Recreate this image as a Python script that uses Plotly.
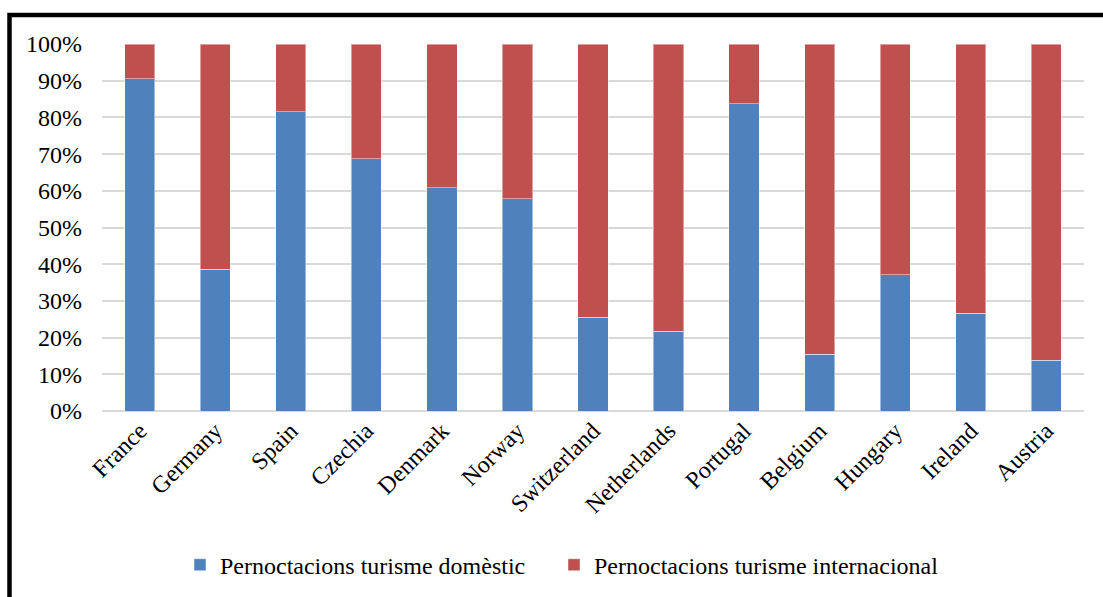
import plotly.graph_objects as go

# Share of overnight stays by origin of tourist (%)
countries = ["France", "Germany", "Spain", "Czechia", "Denmark", "Norway",
             "Switzerland", "Netherlands", "Portugal", "Belgium", "Hungary",
             "Ireland", "Austria"]
domestic = [90.6, 38.6, 81.5, 68.8, 60.8, 57.8, 25.6, 21.7, 83.7, 15.4, 37.1, 26.7, 13.8]
international = [round(100 - d, 1) for d in domestic]

series_names = ["Pernoctacions turisme domèstic", "Pernoctacions turisme internacional"]
y_ticks = list(range(0, 101, 10))
y_tick_text = [f"{v}%" for v in y_ticks]

W, H = 1103, 597
ML, MR, MT, MB = 102, 19, 44, 186
FONT = "Times New Roman, Liberation Serif, serif"
FS = 24

fig = go.Figure()
fig.add_trace(go.Bar(
    x=countries, y=domestic, name=series_names[0], legend="legend",
    marker=dict(color="#4f81bd", line=dict(color="rgba(255,255,255,0.45)", width=1)),
))
fig.add_trace(go.Bar(
    x=countries, y=international, name=series_names[1], legend="legend2",
    marker=dict(color="#c0504d", line=dict(color="rgba(255,255,255,0.45)", width=1)),
))

# outer frame: a thick black border whose right and bottom edges fall outside the page
pw = W - ML - MR
ph = H - MT - MB
fx0 = (9.5 - ML) / pw
fy0 = 1 + (MT - 15) / ph
fig.add_shape(type="rect", xref="paper", yref="paper",
              x0=fx0, x1=1.2, y0=-1.2, y1=fy0,
              line=dict(color="black", width=4.5), fillcolor="rgba(0,0,0,0)",
              layer="above")

legend_common = dict(orientation="h", y=-0.42, xanchor="left", yanchor="middle",
                     font=dict(family=FONT, size=FS, color="black"),
                     itemwidth=30, bgcolor="rgba(0,0,0,0)")

fig.update_layout(
    width=W, height=H,
    margin=dict(l=ML, r=MR, t=MT, b=MB, autoexpand=False),
    barmode="stack",
    bargap=0.6,
    plot_bgcolor="white",
    paper_bgcolor="white",
    font=dict(family=FONT, size=FS, color="black"),
    showlegend=True,
    legend=dict(x=(180 - ML) / pw, **legend_common),
    legend2=dict(x=(554 - ML) / pw, **legend_common),
    xaxis=dict(
        tickangle=-45,
        tickfont=dict(family=FONT, size=FS, color="black"),
        showline=False, showgrid=False, ticks="",
    ),
    yaxis=dict(
        range=[0, 100],
        tickvals=y_ticks, ticktext=y_tick_text,
        tickfont=dict(family=FONT, size=FS, color="black"),
        showgrid=True, gridcolor="#d9d9d9", gridwidth=1.6,
        zeroline=True, zerolinecolor="#d9d9d9", zerolinewidth=1.6,
        showline=False, ticks="", ticklabelstandoff=19,
    ),
)

fig.write_html("out.html")
